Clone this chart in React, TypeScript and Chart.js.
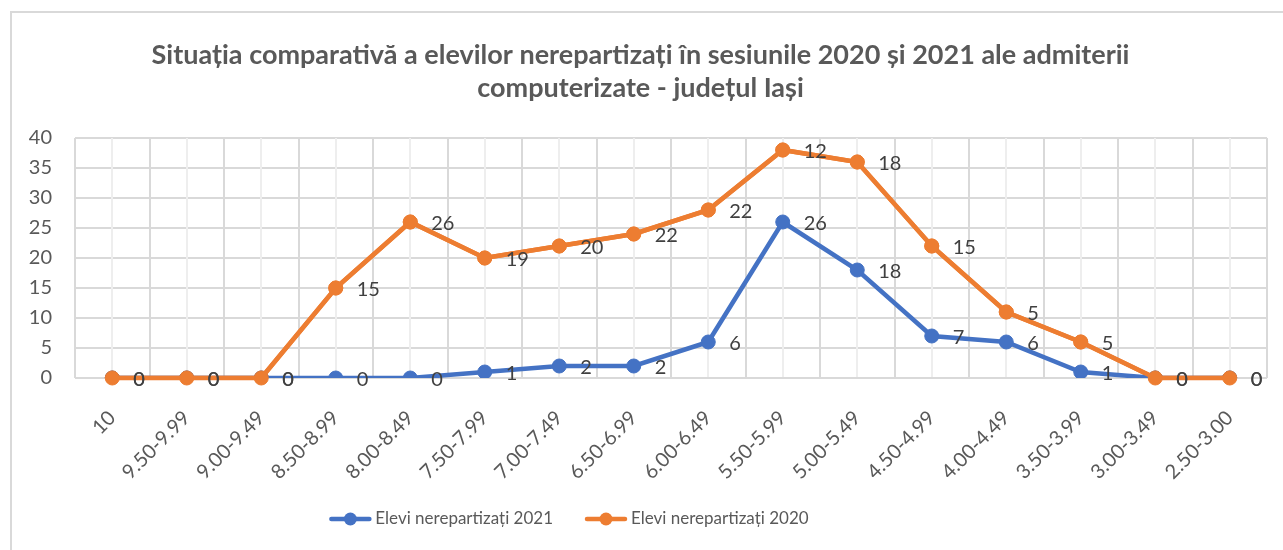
import React, { useEffect, useRef } from 'react';
import { Chart, registerables } from 'chart.js';

Chart.register(...registerables);

// ---- Data ----
const categories = ['10', '9.50-9.99', '9.00-9.49', '8.50-8.99', '8.00-8.49', '7.50-7.99', '7.00-7.49', '6.50-6.99', '6.00-6.49', '5.50-5.99', '5.00-5.49', '4.50-4.99', '4.00-4.49', '3.50-3.99', '3.00-3.49', '2.50-3.00'];
const elevi2021 = [0, 0, 0, 0, 0, 1, 2, 2, 6, 26, 18, 7, 6, 1, 0, 0];
const elevi2020 = [0, 0, 0, 15, 26, 19, 20, 22, 22, 12, 18, 15, 5, 5, 0, 0];
const seriesNames = ['Elevi nerepartizați 2021', 'Elevi nerepartizați 2020'];
const titleLines = ['Situația comparativă a elevilor nerepartizați în sesiunile 2020 și 2021 ale admiterii', 'computerizate - județul Iași'];
const yMin = 0;
const yMax = 40;
const yStep = 5;

const FONT = 'Lato, "Liberation Sans", sans-serif';
const BLUE = '#4472C4';
const ORANGE = '#ED7D31';
const TEXT = '#595959';
const LABEL = '#404040';
const GRID = '#d9d9d9';

const framePlugin = {
  id: 'frame',
  beforeDraw(chart: any) {
    const ctx = chart.ctx;
    ctx.save();
    ctx.fillStyle = '#ffffff';
    ctx.fillRect(0, 0, chart.width, chart.height);
    ctx.fillStyle = GRID;
    ctx.fillRect(10, 11, 2, chart.height - 11);
    ctx.fillRect(10, 11, chart.width - 10, 2);
    ctx.restore();
  },
};

const centerGridPlugin = {
  id: 'centerGrid',
  beforeDatasetsDraw(chart: any) {
    const ctx = chart.ctx;
    const xs = chart.scales.x;
    const area = chart.chartArea;
    ctx.save();
    ctx.strokeStyle = '#eeeeee';
    ctx.lineWidth = 2;
    for (let i = 0; i < categories.length; i++) {
      const x = Math.round(xs.getPixelForValue(i));
      ctx.beginPath();
      ctx.moveTo(x, area.top);
      ctx.lineTo(x, area.bottom - 1);
      ctx.stroke();
    }
    ctx.restore();
  },
};

const orderPlugin = {
  id: 'redrawTop',
  afterDatasetsDraw(chart: any) {
    const meta = chart.getDatasetMeta(1);
    if (meta && meta.controller) {
      chart.ctx.save();
      meta.controller.draw();
      chart.ctx.restore();
    }
  },
};

const labelsPlugin = {
  id: 'pointLabels',
  afterDatasetsDraw(chart: any) {
    const ctx = chart.ctx;
    ctx.save();
    ctx.font = `20px ${FONT}`;
    ctx.fillStyle = LABEL;
    ctx.textAlign = 'left';
    ctx.textBaseline = 'middle';
    chart.data.datasets.forEach((ds: any, di: number) => {
      const meta = chart.getDatasetMeta(di);
      meta.data.forEach((pt: any, j: number) => {
        ctx.fillText(String(ds.data[j]), pt.x + 21, pt.y + 2);
      });
    });
    ctx.restore();
  },
};

const LEGEND_CENTER_X = 569;
const LEGEND_Y = 519;

const legendPlugin = {
  id: 'customLegend',
  afterDraw(chart: any) {
    const ctx = chart.ctx;
    ctx.save();
    ctx.font = `17px ${FONT}`;
    const lineLen = 42;
    const textGap = 4;
    const itemGap = 32;
    const items = chart.data.datasets.map((ds: any) => ({
      text: ds.label,
      color: ds.borderColor,
      w: ctx.measureText(ds.label).width,
    }));
    const total = items.reduce((s: number, it: any) => s + lineLen + textGap + it.w, 0) + itemGap * (items.length - 1);
    let x = LEGEND_CENTER_X - total / 2;
    items.forEach((it: any) => {
      ctx.strokeStyle = it.color;
      ctx.lineWidth = 4.5;
      ctx.lineCap = 'round';
      ctx.beginPath();
      ctx.moveTo(x + 2, LEGEND_Y);
      ctx.lineTo(x + lineLen - 2, LEGEND_Y);
      ctx.stroke();
      ctx.fillStyle = it.color;
      ctx.beginPath();
      ctx.arc(x + lineLen / 2, LEGEND_Y, 6.5, 0, Math.PI * 2);
      ctx.fill();
      ctx.fillStyle = TEXT;
      ctx.textAlign = 'left';
      ctx.textBaseline = 'middle';
      ctx.fillText(it.text, x + lineLen + textGap, LEGEND_Y);
      x += lineLen + textGap + it.w + itemGap;
    });
    ctx.restore();
  },
};

const PAD_LEFT = 14;

export default function App() {
  const ref = useRef<HTMLCanvasElement | null>(null);

  useEffect(() => {
    document.body.style.margin = '0';
    const canvas = ref.current;
    if (!canvas) return;
    const chart = new Chart(canvas, {
      type: 'line',
      data: {
        labels: categories,
        datasets: [
          {
            label: seriesNames[0],
            data: elevi2021,
            borderColor: BLUE,
            backgroundColor: BLUE,
            pointBackgroundColor: BLUE,
            pointBorderColor: BLUE,
            borderWidth: 4.5,
            pointRadius: 7,
            pointBorderWidth: 1,
            tension: 0,
            fill: false,
          },
          {
            label: seriesNames[1],
            data: elevi2020,
            borderColor: ORANGE,
            backgroundColor: ORANGE,
            pointBackgroundColor: ORANGE,
            pointBorderColor: ORANGE,
            borderWidth: 4.5,
            pointRadius: 7,
            pointBorderWidth: 1,
            tension: 0,
            fill: false,
          },
        ],
      },
      options: {
        responsive: false,
        maintainAspectRatio: false,
        animation: false,
        devicePixelRatio: 1,
        layout: { padding: { top: 0, left: PAD_LEFT, right: 16, bottom: 0 } },
        plugins: {
          legend: { display: false },
          tooltip: { enabled: false },
          title: {
            display: true,
            text: titleLines,
            color: TEXT,
            font: { family: FONT, size: 27, weight: 'bold', lineHeight: 33 / 27 },
            padding: { top: 38.5, bottom: 33.5 },
          },
        },
        scales: {
          x: {
            offset: true,
            grid: { offset: true, color: GRID, lineWidth: 2, drawTicks: false },
            border: { display: false },
            ticks: {
              color: TEXT,
              font: { family: FONT, size: 20 },
              minRotation: 45,
              maxRotation: 45,
              autoSkip: false,
              padding: 28,
            },
            afterFit: (s: any) => {
              s.height = 172;
            },
          },
          y: {
            stacked: true,
            min: yMin,
            max: yMax,
            grid: { color: GRID, lineWidth: 2, drawTicks: false },
            border: { display: false },
            ticks: {
              stepSize: yStep,
              color: TEXT,
              font: { family: FONT, size: 20 },
              padding: 23,
            },
            afterFit: (s: any) => {
              s.width = 75 - PAD_LEFT;
            },
          },
        },
      },
      plugins: [framePlugin, centerGridPlugin, orderPlugin, labelsPlugin, legendPlugin],
    });
    return () => chart.destroy();
  }, []);

  return <canvas ref={ref} width={1283} height={550} style={{ display: 'block' }} />;
}
